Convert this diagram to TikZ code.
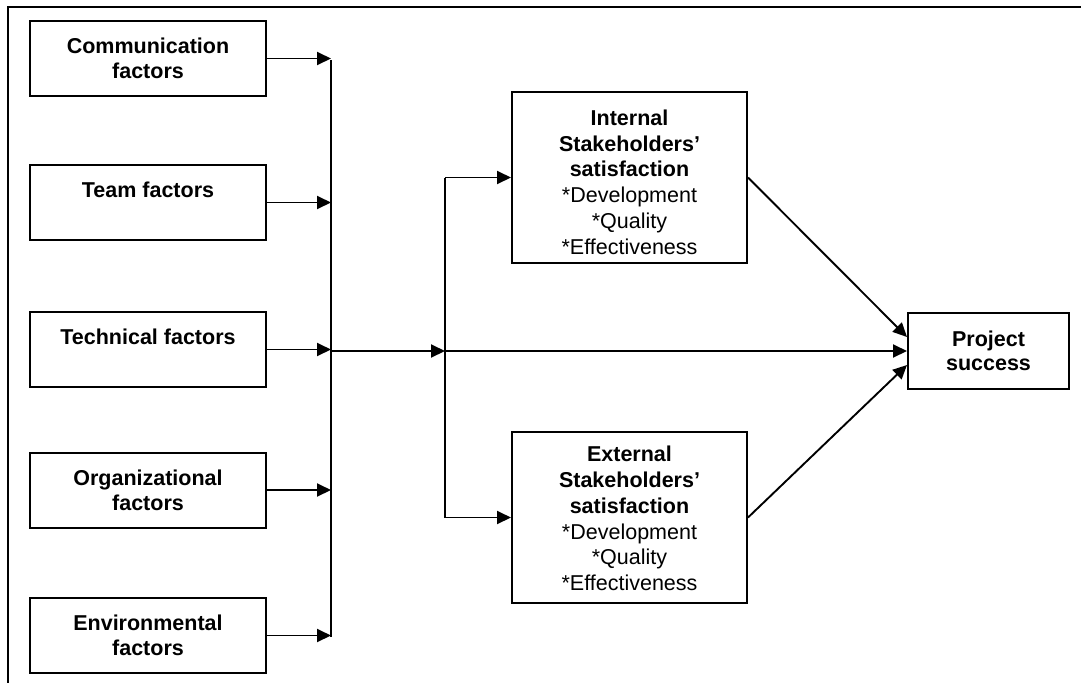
\documentclass[tikz,border=0pt]{standalone}
\usepackage{fontspec}
\setmainfont{Liberation Sans}
\usetikzlibrary{arrows.meta,calc}
\begin{document}
\begin{tikzpicture}[x=1pt,y=-1pt,
  box/.style={draw,line width=2pt,minimum width=236pt,minimum height=75pt,inner sep=0pt,align=center,
    font=\fontsize{21.5}{25}\selectfont\bfseries},
  bigbox/.style={draw,line width=2pt,minimum width=235pt,minimum height=171pt,inner sep=0pt},
  lbl/.style={inner sep=0pt,align=center,font=\fontsize{21.5}{25.8}\selectfont},
  projbox/.style={draw,line width=2pt,minimum width=161pt,minimum height=76pt,inner sep=0pt,align=center,
    font=\fontsize{21.5}{24}\selectfont\bfseries},
  conn/.style={line width=1.9pt},
  arr/.style={conn,-{Triangle[length=14pt,width=13pt]}}]
\useasboundingbox (0,0) rectangle (1081,683);
\draw[line width=1.9pt] (1081,7) -- (8,7) -- (8,683);

\node[box] (comm) at (148,58.5) {Communication\\factors};
\node[box] (team) at (148,202.5) {Team factors\\\mbox{}};
\node[box] (tech) at (148,349.5) {Technical factors\\\mbox{}};
\node[box] (org)  at (148,490) {Organizational\\factors};
\node[box] (env)  at (148,635.5) {Environmental\\factors};

\node[bigbox] (int) at (629.5,177.5) {};
\node[lbl,anchor=north] (intl) at ($(int.north)+(0,18.5)$) {\textbf{Internal}\\\textbf{Stakeholders’}\\\textbf{satisfaction}\\*Development\\*Quality\\*Effectiveness};
\node[bigbox] (ext) at (629.5,517.5) {};
\node[lbl,anchor=north] (extl) at ($(ext.north)+(0,15)$) {\textbf{External}\\\textbf{Stakeholders’}\\\textbf{satisfaction}\\*Development\\*Quality\\*Effectiveness};

\node[projbox] (proj) at (988.5,351) {Project\\success};

\coordinate (bustop) at (331,60);
\coordinate (busbot) at (331,637);
\coordinate (busmid) at (331,351);
\coordinate (split) at (445,351);

\draw[conn] (bustop) -- (busbot);
\foreach \n in {comm,team,tech,org,env}
  \draw[arr] (\n.east) -- (\n.east -| bustop);
\draw[arr] (busmid) -- (split);
\draw[conn] (split |- int.west) -- (split |- ext.west);
\draw[arr] (split |- int.west) -- (int.west);
\draw[arr] (split |- ext.west) -- (ext.west);
\draw[arr] (split) -- (proj.west);
\draw[arr] (int.east) -- ($(proj.west)+(0,-14)$);
\draw[arr] (ext.east) -- ($(proj.west)+(0,14)$);
\end{tikzpicture}
\end{document}
